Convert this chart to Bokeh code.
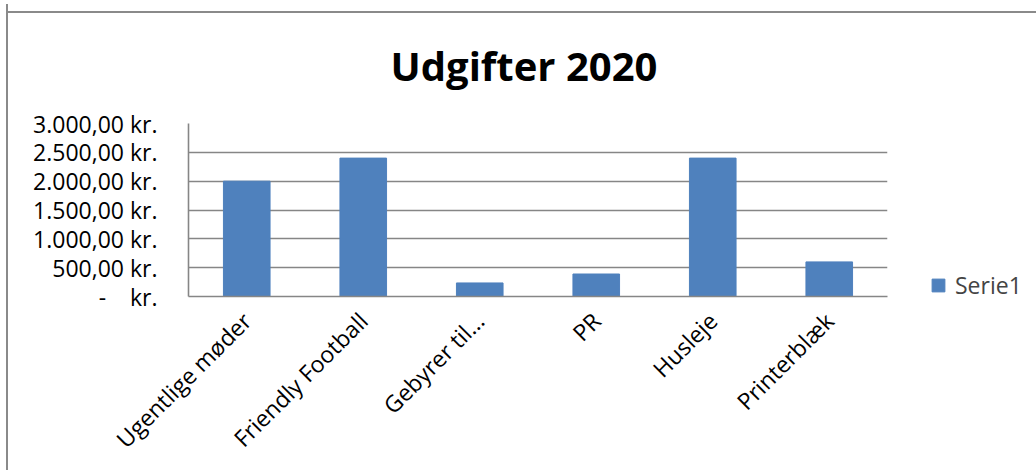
from bokeh.plotting import figure
from bokeh.models import FixedTicker, Legend, LegendItem, Title
from bokeh.embed import file_html
from bokeh.resources import INLINE

categories = ["Ugentlige møder", "Friendly Football", "Gebyrer til...", "PR", "Husleje", "Printerblæk"]
values = [2000, 2400, 235, 390, 2400, 600]
series_name = "Serie1"
y_ticks = [0, 500, 1000, 1500, 2000, 2500, 3000]
y_tick_labels = ["-\u00a0\u00a0\u00a0\u00a0kr.", "500,00 kr.", "1.000,00 kr.", "1.500,00 kr.",
                 "2.000,00 kr.", "2.500,00 kr.", "3.000,00 kr."]
title_text = "Udgifter 2020"

FONT = "Open Sans"
GRID = "#868686"
BAR = "#4F81BD"
EDGE = "#8a8a8a"

p = figure(frame_width=699, frame_height=173, x_range=categories, y_range=(0, 3000),
           output_backend="svg", toolbar_location=None,
           min_border_left=180, min_border_right=145, min_border_top=40, min_border_bottom=174)
p.title = None
p.add_layout(Title(text=title_text, align="left", text_font=FONT, text_font_size="40px",
                   text_font_style="bold", text_color="black", offset=202, standoff=62), "above")

r = p.vbar(x=categories, top=values, width=0.4, fill_color=BAR, line_color=BAR)

p.x_range.range_padding = 0
p.outline_line_color = None
p.background_fill_color = "white"
p.border_fill_color = None

p.xgrid.grid_line_color = None
p.yaxis.ticker = FixedTicker(ticks=y_ticks)
p.yaxis.major_label_overrides = {t: l for t, l in zip(y_ticks, y_tick_labels)}
p.ygrid.grid_line_color = GRID
p.ygrid.grid_line_width = 1.6

for ax in (p.xaxis[0], p.yaxis[0]):
    ax.axis_line_color = GRID
    ax.axis_line_width = 1.6
    ax.major_tick_line_color = None
    ax.minor_tick_line_color = None
    ax.major_label_text_font = FONT
    ax.major_label_text_font_size = "23px"
    ax.major_label_text_color = "black"

p.yaxis.major_label_standoff = 25
p.xaxis.major_label_orientation = 0.785398
p.xaxis.major_label_standoff = 14

legend = Legend(items=[LegendItem(label=series_name, renderers=[r])],
                location=(43, -5), label_text_font=FONT, label_text_font_size="23px",
                border_line_color=None, background_fill_alpha=0, padding=0, margin=0,
                glyph_width=16, glyph_height=16, label_standoff=9)
p.add_layout(legend, "right")

p.styles = {"border-left": "2px solid " + EDGE,
            "margin-top": "4px", "margin-left": "6px",
            "background": "linear-gradient(%s, %s) 0 7px / 100%% 2px no-repeat, white" % (EDGE, EDGE)}

open("out.html", "w").write(file_html(p, INLINE))
